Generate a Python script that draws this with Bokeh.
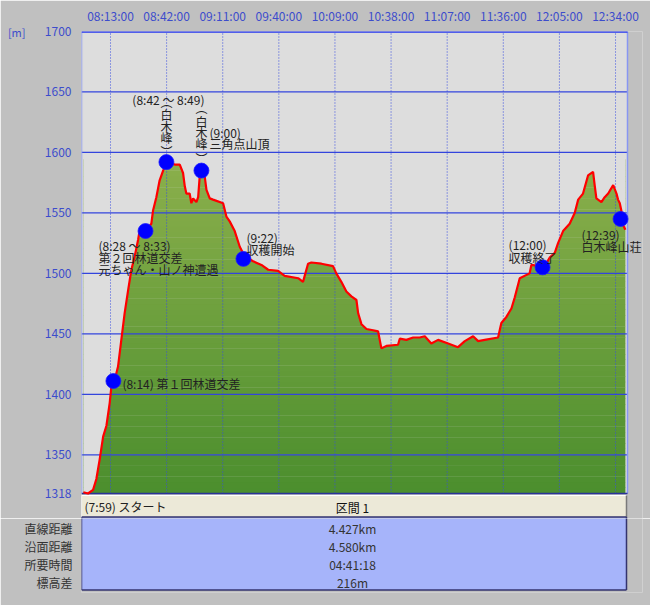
import numpy as np
from bokeh.plotting import figure
from bokeh.models import FixedTicker, Range1d, LinearAxis
from bokeh.layouts import column
from bokeh.core.properties import value
from bokeh.embed import file_html
from bokeh.resources import INLINE

# ---------------- data ----------------
START = "07:59"
time_ticks = ["08:13:00", "08:42:00", "09:11:00", "09:40:00", "10:09:00",
              "10:38:00", "11:07:00", "11:36:00", "12:05:00", "12:34:00"]
elev_ticks = [1318, 1350, 1400, 1450, 1500, 1550, 1600, 1650, 1700]
unit_label = "[m]"

# minutes after start
prof_min = [0, 2.4, 5.0, 6.7, 8.4, 10.2, 11.9, 13.6, 14.5, 16.2, 17.9, 19.6, 21.3, 23.1,
            24.8, 26.5, 28.3, 29.1, 32.6, 35.1, 36.0, 37.7, 39.4, 41.2, 42.9, 43.4, 47.2,
            49.8, 51.5, 52.4, 53.2, 54.9, 55.8, 56.7, 58.4, 59.3, 60.1, 61.5, 62.7, 63.6,
            65.3, 67.0, 72.2, 73.9, 75.6, 78.2, 80.8, 83.4, 87.7, 92.0, 95.5, 100.6, 104.0,
            111.0, 113.5, 116.1, 117.8, 123.0, 129.0, 130.7, 133.3, 135.9, 138.5, 141.1,
            142.0, 143.7, 146.3, 149.7, 152.3, 154.0, 156.6, 162.6, 163.5, 166.9, 170.4,
            173.8, 176.4, 179.8, 183.3, 188.5, 193.6, 197.1, 201.4, 204.0, 207.4, 214.3,
            216.0, 218.6, 221.2, 222.9, 225.5, 230.6, 231.5, 235.8, 238.4, 241.0, 243.6,
            245.3, 247.9, 251.3, 253.9, 255.7, 258.2, 260.8, 263.4, 264.3, 265.1, 267.7,
            269.4, 271.2, 273.8, 275.5, 276.3, 277.2, 278.0, 278.9, 280.1]
prof_elev = [1319, 1318, 1321, 1330, 1346, 1365, 1374, 1393, 1407, 1412, 1423, 1445, 1467,
             1486, 1503, 1514, 1528, 1536, 1536, 1541, 1552, 1563, 1577, 1585, 1590, 1592,
             1590, 1590, 1583, 1572, 1566, 1566, 1558, 1562, 1559, 1563, 1580, 1585, 1580,
             1569, 1562, 1561, 1558, 1547, 1543, 1535, 1522, 1514, 1510, 1507, 1503, 1502,
             1498, 1496, 1493, 1508, 1509, 1508, 1506, 1500, 1493, 1485, 1481, 1478, 1467,
             1458, 1454, 1453, 1452, 1438, 1440, 1441, 1446, 1445, 1447, 1447, 1448, 1442,
             1445, 1442, 1439, 1444, 1448, 1444, 1445, 1447, 1459, 1464, 1471, 1480, 1496,
             1500, 1507, 1506, 1506, 1513, 1517, 1525, 1535, 1541, 1550, 1561, 1566, 1581,
             1584, 1572, 1562, 1559, 1563, 1566, 1573, 1566, 1561, 1558, 1552, 1540, 1536]

wp_min = [15.5, 32.1, 42.9, 61.0, 82.7, 237.3, 277.6]
wp_elev = [1411, 1535, 1592, 1585, 1512, 1505, 1545]

header_left = "(7:59) スタート"
header_center = "区間 1"
row_labels = ["直線距離", "沿面距離", "所要時間", "標高差"]
row_values = ["4.427km", "4.580km", "04:41:18", "216m"]

# ---------------- layout constants (reference pixels) ----------------
W = 650
FL, FR, FT = 81, 642, 31          # frame of chart figure
SPLIT = 518                        # boundary between the two figures
CL, CR, CT, CB = 81, 627, 31, 493  # chart area
X0, PXM = 82.9, 1.935              # x of start, px per minute
K = (CB - CT) / (1700 - 1318)
TB = 592                           # bottom of table frame
H2 = 605 - SPLIT
TL, TR = 81, 626                   # table left / right
HT, HB = 495, 516.5                # header top / bottom
BB = 589.5                         # body bottom

FONT = value("Noto Sans CJK JP")
FONT_NAME = "Noto Sans CJK JP"
BLUE_TXT = "#3c4ccc"
BG = "#c0c0c0"
BODY = "#a6b4fa"
NAVY = "#33336e"


def tmin(s):
    parts = [int(v) for v in s.split(":")]
    return parts[0] * 60 + parts[1] + (parts[2] / 60 if len(parts) > 2 else 0)


t_start = tmin(START)
tick_pos = [tmin(s) - t_start for s in time_ticks]

x_lo = (FL - X0) / PXM
x_hi = (FR - X0) / PXM
chart_x0 = (CL - X0) / PXM
chart_x1 = (CR - X0) / PXM
y_lo = 1318 - (SPLIT - CB) / K

p = figure(width=W, height=SPLIT, output_backend="svg", toolbar_location=None,
           x_range=Range1d(x_lo, x_hi), y_range=Range1d(y_lo, 1700),
           x_axis_location="above",
           min_border_left=FL, min_border_right=W - FR,
           min_border_top=FT, min_border_bottom=0)
p.extra_x_ranges = {"px": Range1d(FL, FR)}
p.extra_y_ranges = {"px": Range1d(SPLIT, FT)}
p.background_fill_color = BG
p.border_fill_color = BG
p.outline_line_color = None
p.xgrid.grid_line_color = None
p.ygrid.grid_line_color = None

xa = p.xaxis[0]
xa.ticker = FixedTicker(ticks=tick_pos)
xa.major_label_overrides = {tp: s for tp, s in zip(tick_pos, time_ticks)}
ya = p.yaxis[0]
ya.ticker = FixedTicker(ticks=elev_ticks)
ua = LinearAxis(ticker=FixedTicker(ticks=[1700]), major_label_overrides={1700: unit_label})
p.add_layout(ua, "left")
for ax in (xa, ya, ua):
    ax.axis_line_color = None
    ax.major_tick_line_color = None
    ax.minor_tick_line_color = None
    ax.major_tick_out = 0
    ax.major_tick_in = 0
    ax.minor_tick_out = 0
    ax.major_label_text_color = BLUE_TXT
    ax.major_label_text_font = FONT_NAME
    ax.major_label_text_font_size = "12px"
ua.major_label_text_font_size = "11px"
xa.major_label_standoff = 8
ya.major_label_standoff = 10
ua.major_label_standoff = 16

PX = dict(x_range_name="px", y_range_name="px")

# chart background
p.quad(left=[CL], right=[CR], bottom=[CB], top=[CT], fill_color="#dddddd", line_color=None, **PX)

# gradient fill (bands) then mask above profile
nb = 60
edges = np.linspace(1318, max(prof_elev) + 2, nb + 1)
c_top = np.array([140, 176, 76])
c_bot = np.array([76, 143, 46])
cols = []
for i in range(nb):
    f = (edges[i] - 1318) / (edges[-1] - 1318)
    c = (c_bot + (c_top - c_bot) * f).astype(int)
    cols.append("#%02x%02x%02x" % tuple(c))
p.quad(left=[prof_min[0]] * nb, right=[prof_min[-1]] * nb, bottom=edges[:-1], top=edges[1:] + 0.3,
       fill_color=cols, line_color=None)
p.varea(x=prof_min, y1=prof_elev, y2=[1700] * len(prof_min), fill_color="#dddddd")

# grid lines on top
p.segment(x0=tick_pos, y0=[1318] * len(tick_pos), x1=tick_pos, y1=[1700] * len(tick_pos),
          line_color="#3a4ee0", line_width=1, line_dash="1 2")
hl = [e for e in elev_ticks if 1318 < e < 1700]
p.segment(x0=[chart_x0] * len(hl), y0=hl, x1=[chart_x1] * len(hl), y1=hl,
          line_color="#3344dd", line_width=1.2)

# chart border
p.segment(x0=[CL, CR], y0=[CT, CT], x1=[CL, CR], y1=[CB, CB],
          line_color="#8896f2", line_width=1.5, **PX)
p.segment(x0=[CL], y0=[CT], x1=[CR], y1=[CT], line_color="#2233ee", line_width=2.5, **PX)
p.segment(x0=[CL], y0=[CB], x1=[CR], y1=[CB], line_color="#2a3399", line_width=1.5, **PX)

# profile line and waypoints
p.line(prof_min, prof_elev, line_color="#ff0000", line_width=2.2)
p.scatter(wp_min, wp_elev, size=15, fill_color="#0000ff", line_color="#1a1aff", line_width=0.8)

# annotations: (waypoint index, text, x_off, y_off, align, baseline, line height)
ann = [
    (0, "(8:14) 第１回林道交差", 9, 2, "left", "middle", 1.0),
    (1, "(8:28 ～ 8:33)\n第２回林道交差\n元ちゃん・山ノ神遭遇", -47, 6, "left", "top", 0.69),
    (2, "(8:42 ～ 8:49)", 2, -63, "center", "middle", 1.0),
    (2, "︵", 0, -61, "center", "middle", 1.0),
    (2, "白\n木\n峰", 0, -36, "center", "middle", 0.69),
    (2, "︶", 0, -11, "center", "middle", 1.0),
    (3, "︵", 0, -63, "center", "middle", 1.0),
    (3, "白\n木\n峰", 0, -38, "center", "middle", 0.65),
    (3, "︶", 0, -12, "center", "middle", 1.0),
    (3, "(9:00)\n三角点山頂", 8, -47, "left", "top", 0.69),
    (4, "(9:22)\n収穫開始", 3, -30, "left", "top", 0.69),
    (5, "(12:00)\n収穫終了", -34, -31, "left", "top", 0.72),
    (6, "(12:39)\n白木峰山荘", -39, 7, "left", "top", 0.72),
]
for i, s, xo, yo, al, bl, lh in ann:
    p.text(x=[wp_min[i]], y=[wp_elev[i]], text=[s], x_offset=xo, y_offset=yo,
           text_align=al, text_baseline=bl, text_font=FONT, text_font_size="12px",
           text_line_height=lh, text_color="#222222")

# table header (inside chart figure)
p.quad(left=[TL], right=[TR], bottom=[HB], top=[HT], fill_color="#ece9d8", line_color=None, **PX)
p.segment(x0=[TL, TL], y0=[HT, HT], x1=[TR, TL], y1=[HT, HB],
          line_color="#ffffff", line_width=1.2, **PX)
p.segment(x0=[TR], y0=[HT], x1=[TR], y1=[HB], line_color="#7a7a7a", line_width=1.5, **PX)
p.text(x=[84], y=[506], text=[header_left], text_align="left", text_baseline="middle",
       text_font=FONT, text_font_size="12px", text_color="#222222", **PX)
p.text(x=[352], y=[507], text=[header_center], text_align="center", text_baseline="middle",
       text_font=FONT, text_font_size="12px", text_color="#111111", **PX)
# top part of the body
p.quad(left=[TL], right=[TR], bottom=[SPLIT + 1], top=[HB], fill_color=BODY, line_color=None, **PX)
p.segment(x0=[TL, TL, TR], y0=[HB, HB, HB], x1=[TR, TL, TR], y1=[HB, SPLIT + 1, SPLIT + 1],
          line_color=NAVY, line_width=1.5, **PX)

# ---------------- table figure ----------------
q = figure(width=W, height=H2, output_backend="svg", toolbar_location=None,
           x_range=Range1d(FL, FR), y_range=Range1d(TB, SPLIT),
           x_axis_location=None, y_axis_location="left",
           min_border_left=FL, min_border_right=W - FR, min_border_top=0,
           min_border_bottom=605 - TB)
q.background_fill_color = BG
q.border_fill_color = BG
q.outline_line_color = None
q.xgrid.grid_line_color = None
q.ygrid.grid_line_color = None

row_y = [528, 546, 564, 582]
qa = q.yaxis[0]
qa.ticker = FixedTicker(ticks=row_y)
qa.major_label_overrides = {yy: lab for yy, lab in zip(row_y, row_labels)}
qa.axis_line_color = None
qa.major_tick_line_color = None
qa.minor_tick_line_color = None
qa.major_tick_out = 0
qa.major_tick_in = 0
qa.minor_tick_out = 0
qa.major_label_standoff = 9
qa.major_label_text_color = "#333333"
qa.major_label_text_font = FONT_NAME
qa.major_label_text_font_size = "12px"

q.quad(left=[TL], right=[TR], bottom=[BB], top=[SPLIT - 1], fill_color=BODY, line_color=None)
q.segment(x0=[TL, TL, TR], y0=[SPLIT - 1, BB, BB], x1=[TL, TR, TR], y1=[BB, BB, SPLIT - 1],
          line_color=NAVY, line_width=1.5)
q.text(x=[352] * len(row_values), y=row_y, text=row_values,
       text_align="center", text_baseline="middle", text_font=FONT, text_font_size="12px",
       text_color="#333333")

layout = column(p, q, spacing=0)
open("out.html", "w").write(file_html(layout, INLINE))
